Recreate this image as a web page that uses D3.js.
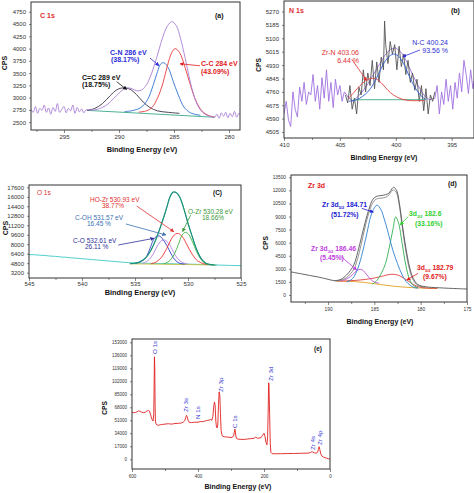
<!DOCTYPE html>
<html><head><meta charset="utf-8">
<script src="https://cdn.jsdelivr.net/npm/d3@7"></script>
<style>body{margin:0;background:#fff}svg{display:block}text{font-family:"Liberation Sans",Arial,sans-serif}</style>
</head><body><svg id="c" width="474" height="493"></svg>
<script>
// ---------- Panel (a) C 1s ----------
const aXTicks=[295,290,285,280], aXMinor=[297.5,292.5,287.5,282.5];
const aYTicks=[2500,2750,3000,3250,3500,3750,4000,4250,4500,4750];
const aEnvelope=[[298,2760],[297.8,2700],[297.6,2820],[297.4,2680],[297.2,2780],[297,2740],[296.8,2850],[296.6,2700],[296.4,2790],[296.2,2660],[296,2800],[295.8,2720],[295.6,2880],[295.4,2700],[295.2,2760],[295,2820],[294.8,2690],[294.6,2780],[294.4,2730],[294.2,2850],[294,2680],[293.8,2800],[293.6,2710],[293.4,2770],[293.2,2690],[293,2750],[292.5,2745],[292,2760],[291.5,2800],[291,2870],[290.5,2980],[290,3090],[289.6,3170],[289.2,3200],[288.8,3180],[288.4,3140],[288,3150],[287.6,3230],[287.2,3400],[286.8,3650],[286.4,3950],[286,4250],[285.6,4460],[285.2,4550],[284.8,4470],[284.4,4200],[284,3820],[283.6,3400],[283.2,3050],[282.8,2820],[282.4,2700],[282,2640],[281.6,2610],[281.3,2600],[281.1,2660],[280.9,2580],[280.7,2690],[280.5,2620],[280.3,2700],[280.1,2590],[279.9,2680],[279.7,2610],[279.5,2720],[279.3,2600],[279.1,2680],[278.9,2630]];
const aCdC=[[292.9,2740],[292.2,2780],[291.5,2880],[290.8,3040],[290.2,3160],[289.6,3200],[289,3170],[288.4,3060],[287.8,2910],[287.2,2800],[286.5,2730],[285.5,2700],[284.5,2680]];
const aCN=[[289.5,2715],[288.8,2735],[288,2800],[287.4,2960],[286.9,3250],[286.5,3530],[286.2,3690],[285.9,3710],[285.5,3600],[285.1,3350],[284.6,3050],[284.1,2810],[283.5,2690],[282.6,2640]];
const aCC=[[288.2,2705],[287.5,2730],[287,2800],[286.5,2990],[286,3300],[285.6,3650],[285.2,3920],[284.9,4000],[284.5,3920],[284,3620],[283.5,3250],[283,2930],[282.5,2740],[282,2650],[281.3,2600]];
const aBase=[[292.9,2740],[281.3,2600]];

// ---------- Panel (b) N 1s ----------
const bXTicks=[410,405,400,395], bXMinor=[407.5,402.5,397.5];
const bYTicks=[4505,4590,4675,4760,4845,4930,5015,5100,5185,5270];
const bPurple=[[410,4620],[409.8,4700],[409.6,4580],[409.4,4540],[409.2,4760],[409,4650],[408.8,4600],[408.6,4790],[408.4,4700],[408.2,4820],[408,4680],[407.8,4760],[407.6,4740],[407.4,4870],[407.2,4700],[407,4800],[406.8,4650],[406.6,4850],[406.4,4720],[406.2,4900],[406,4700],[405.8,4820],[405.6,4660],[405.4,4840],[405.2,4740],[405,4800],[404.8,4700],[404.6,4760],[404.2,4720],[403.8,4700],[403.4,4730],[403,4760],[402.5,4810],[402,4870],[401.5,4930],[401,4990],[400.5,5030],[400,5040],[399.5,5010],[399,4950],[398.5,4870],[398,4800],[397.5,4740],[397,4710],[396.5,4720],[396.3,4800],[396.1,4620],[395.9,4760],[395.7,4680],[395.5,4840],[395.3,4700],[395.1,4800],[394.9,4650],[394.7,4820],[394.5,4720],[394.3,4880],[394.1,4760],[393.9,4960],[393.7,4870],[393.5,4750],[393.3,4900],[393.1,4780],[393,4830]];
const bRaw=[[404.5,4740],[404.3,4690],[404.1,4800],[403.9,4650],[403.7,4720],[403.5,4620],[403.3,4790],[403.1,4740],[402.9,4900],[402.7,4760],[402.5,4880],[402.3,4800],[402.1,4960],[401.9,4780],[401.7,4950],[401.5,4820],[401.3,4980],[401.1,4900],[401,5210],[400.9,5060],[400.7,4940],[400.5,5080],[400.3,5000],[400.1,5060],[399.9,4900],[399.7,5050],[399.5,4920],[399.3,5000],[399.1,4870],[398.9,4960],[398.7,4820],[398.5,4880],[398.3,4770],[398.1,4840],[397.9,4700],[397.7,4800],[397.5,4640],[397.3,4780],[397.1,4620],[396.9,4740],[396.7,4700],[396.5,4760]];
const bNC=[[404.2,4700],[403.5,4710],[403,4730],[402.5,4760],[402,4810],[401.5,4880],[401,4950],[400.5,4990],[400.2,5000],[399.8,4990],[399.3,4940],[398.8,4860],[398.3,4790],[397.8,4740],[397.3,4710]];
const bZrN=[[404.2,4720],[403.7,4760],[403.2,4800],[402.7,4830],[402.2,4845],[401.7,4840],[401.2,4810],[400.7,4770],[400.2,4740],[399.5,4715],[398.8,4705],[397.4,4705]];
const bBase=[[403.8,4710],[397.4,4710]];

// ---------- Panel (c) O 1s ----------
const cXTicks=[545,540,535,530,525], cXMinor=[542.5,537.5,532.5,527.5];
const cYTicks=[3200,4800,6400,8000,9600,11200,12800,14400,16000,17600];
const cBack=[[545,6250],[544.5,6230],[544,6150],[543.5,6100],[543,6000],[542.5,5950],[542,5850],[541.5,5800],[541,5700],[540.5,5640],[540,5550],[539.5,5480],[539,5400],[538.5,5330],[538,5250],[537.5,5170],[537,5100],[536.5,5020],[536,4950],[535.5,4890],[535,4850],[534,4780],[533,4760],[532,4720],[531,4680],[530,4640],[529,4600],[528,4550],[527,4480],[526,4420],[525,4380]];
const cEnv=[[535.5,4700],[535,4800],[534.5,5100],[534,5700],[533.5,7000],[533,9000],[532.5,11500],[532,14200],[531.7,16000],[531.4,16800],[531.1,16700],[530.8,16000],[530.4,14000],[530,11500],[529.6,9300],[529.2,7200],[528.8,5700],[528.4,4900],[528,4600],[527.5,4500]];
const cEnv2=[[535.3,4700],[534.8,4850],[534.3,5250],[533.8,6100],[533.3,7600],[532.8,9800],[532.3,12400],[531.9,14900],[531.6,16300],[531.3,16850],[531,16600],[530.7,15700],[530.3,13500],[529.9,11000],[529.5,8700],[529.1,6700],[528.7,5400],[528.3,4800],[527.9,4550],[527.3,4450]];
const cCO=[[535,4750],[534.5,5000],[534,5700],[533.6,7200],[533.3,8600],[533,9300],[532.7,9400],[532.4,8900],[532,7800],[531.6,6400],[531.2,5300],[530.8,4800],[530.3,4650]];
const cCOH=[[534.3,4750],[533.8,5200],[533.3,6300],[532.9,7700],[532.5,8600],[532.2,8700],[531.8,8100],[531.4,6800],[531,5600],[530.5,4900],[530,4650]];
const cHOZr=[[533.5,4700],[533,5000],[532.5,5800],[532,7300],[531.6,8800],[531.2,9700],[530.9,9800],[530.5,9200],[530.1,7900],[529.6,6300],[529.1,5200],[528.5,4700],[528,4600]];
const cOZr=[[532.3,4700],[531.8,5100],[531.3,6300],[530.9,8000],[530.6,9400],[530.3,10000],[530,9800],[529.6,8500],[529.2,6800],[528.8,5500],[528.4,4800],[528,4550]];
const cBase=[[535.5,4700],[527.5,4500]];

// ---------- Panel (d) Zr 3d ----------
const dXTicks=[190,185,180,175], dXMinor=[192.5,187.5,182.5,177.5];
const dYTicks=[0,1500,3000,4500,6000,7500,9000,10500,12000,13500];
const dRaw=[[194,2650],[193,2450],[192,2250],[191,2050],[190,1800],[189.3,1650],[188.6,1800],[188,2300],[187.6,2800],[187.2,3500],[186.8,4900],[186.4,6600],[186,8300],[185.6,9800],[185.2,10900],[184.8,11300],[184.3,11400],[183.8,11500],[183.4,11700],[183.1,12200],[182.9,12350],[182.6,12000],[182.3,10500],[182,8200],[181.6,5400],[181.2,3200],[180.8,1900],[180.3,1200],[179.5,950],[178,830],[176,730],[175,690]];
const dFit=[[189.3,1600],[188.6,1700],[188,2000],[187.6,2400],[187.2,3000],[186.8,4200],[186.4,5900],[186,7800],[185.6,9400],[185.2,10500],[184.8,11000],[184.3,11100],[183.8,11200],[183.4,11500],[183.1,11950],[182.9,12050],[182.6,11700],[182.3,10200],[182,7900],[181.6,5000],[181.2,2900],[180.8,1700],[180.3,1100],[179.5,900]];
const dBlue=[[188,1500],[187.5,1750],[187.2,2100],[186.8,3000],[186.5,4000],[186.1,5700],[185.8,7100],[185.4,9000],[185,10000],[184.7,10300],[184.3,9800],[183.9,8600],[183.4,6700],[183,5100],[182.5,3600],[182,2300],[181.4,1350],[180.8,900],[180.3,780]];
const dGreen=[[185.2,1250],[184.7,1700],[184.2,2600],[183.8,3600],[183.4,5400],[183,7500],[182.7,8950],[182.4,8300],[182,5900],[181.6,3400],[181.2,1800],[180.8,1100],[180.3,850]];
const dMagenta=[[188.7,1650],[188.2,1750],[187.6,2100],[187.1,2600],[186.8,2850],[186.5,2950],[186.2,2800],[185.8,2300],[185.4,1800],[185,1500],[184.5,1350]];
const dRed=[[189,1600],[188,1620],[187,1680],[186,1780],[185,1950],[184,2200],[183.2,2380],[182.5,2300],[182,2050],[181.5,1700],[181,1350],[180.5,1050],[180,880],[179,780],[178.2,760]];
const dBase=[[189.1,1600],[188,1580],[187,1530],[186,1430],[185,1300],[184,1150],[183,1020],[182,920],[181,850],[180,800],[179,770],[178.2,760]];

// ---------- Panel (e) survey ----------
const eXTicks=[600,400,200,0], eXMinor=[500,300,100];
const eYTicks=[0,17000,34000,51000,68000,85000,102000,119000,136000,153000];
const eSurvey=[[600,61500],[595,61000],[590,61200],[585,62000],[580,63500],[575,62500],[570,61500],[565,61000],[560,61500],[555,63000],[550,64000],[547,63000],[544,59000],[541,54000],[538,51000],[536,50000],[534,60000],[533,95000],[532,134000],[531,120000],[530,70000],[529,50000],[527,46000],[524,45000],[520,44500],[510,45500],[500,46000],[490,46500],[480,46000],[470,46800],[460,47000],[450,47500],[445,48500],[440,50500],[437,55000],[435,57500],[433,56000],[430,51000],[427,48500],[420,48000],[410,48500],[400,48500],[395,49000],[390,49500],[385,49000],[380,50000],[375,50500],[370,51000],[365,51500],[362,52000],[358,51000],[355,56000],[352,70000],[350,75000],[348,70000],[346,50000],[344,42000],[342,41000],[340,45000],[338,70000],[336,88000],[334,85000],[332,60000],[330,38000],[327,31000],[324,30000],[320,29500],[310,29000],[300,28500],[295,29000],[292,31000],[290,35000],[288,39500],[286,33000],[284,27500],[280,26500],[270,26000],[260,26000],[250,26500],[240,27000],[230,27500],[225,29000],[220,27500],[210,28000],[205,31000],[200,34000],[197,30000],[194,22000],[191,19000],[189,30000],[187,70000],[186,100000],[185,98000],[183,60000],[181,20000],[179,9000],[176,7500],[170,7200],[150,7300],[130,7500],[110,7600],[90,7800],[70,8000],[60,8500],[55,10000],[52,9500],[48,8500],[42,8000],[38,9000],[35,13000],[33,16500],[31,13000],[28,7000],[24,4000],[20,3000],[15,2000],[10,1500],[5,800],[0,0]];
const ePeakNames=["O 1s","Zr 3s","N 1s","Zr 3p","C 1s","Zr 3d","Zr 4s","Zr 4p"];
const ePeakEV=[530,436,400,330,288,179,51.6,30.4];
const ePeakCPS=[137700,61800,52700,88000,40900,102400,12150,18700];

// ---------- drawing ----------
const svg=d3.select('#c');
const defs=svg.append('defs');
const FONT='"Liberation Sans",Arial,sans-serif';
let clipN=0;
function markerFor(color){
  const id='m'+color.replace('#','');
  if(defs.select('#'+id).empty()){
    defs.append('marker').attr('id',id).attr('viewBox','0 0 10 10').attr('refX',9).attr('refY',5)
      .attr('markerWidth',4).attr('markerHeight',4).attr('markerUnits','userSpaceOnUse').attr('orient','auto')
      .append('path').attr('d','M0,0L10,5L0,10z').attr('fill',color);
  }
  return 'url(#'+id+')';
}
function txt(x,y,s,color,size,weight,anchor){
  return svg.append('text').attr('x',x).attr('y',y).text(s).attr('fill',color||'#111')
    .attr('font-size',size).attr('font-weight',weight||'normal').attr('text-anchor',anchor||'start').attr('font-family',FONT);
}
function subTxt(x,y,pre,sub,post,color,size,weight){
  const t=svg.append('text').attr('x',x).attr('y',y).attr('fill',color).attr('font-size',size).attr('font-weight',weight).attr('font-family',FONT);
  t.append('tspan').text(pre);
  t.append('tspan').text(sub).attr('font-size',size*0.6).attr('dy',size*0.25);
  t.append('tspan').text(post).attr('dy',-size*0.25);
  return t;
}
function panel(o){
  const x=d3.scaleLinear().domain(o.xd).range([o.l,o.r]);
  const y=d3.scaleLinear().domain(o.yd).range([o.b,o.t]);
  const id='clip'+(clipN++);
  defs.append('clipPath').attr('id',id).append('rect').attr('x',o.l).attr('y',o.t).attr('width',o.r-o.l).attr('height',o.b-o.t);
  const g=svg.append('g');
  const plot=g.append('g').attr('clip-path','url(#'+id+')');
  const ax=g.append('g').attr('transform','translate(0,'+o.b+')')
    .call(d3.axisBottom(x).tickValues(o.xt).tickSize(3).tickPadding(o.xpad).tickFormat(d3.format('d')));
  const axm=g.append('g').attr('transform','translate(0,'+o.b+')')
    .call(d3.axisBottom(x).tickValues(o.xm).tickSize(2).tickFormat(''));
  const ay=g.append('g').attr('transform','translate('+o.l+',0)')
    .call(d3.axisLeft(y).tickValues(o.yt).tickSize(2).tickPadding(o.ypad).tickFormat(d3.format('d')));
  [ax,axm,ay].forEach(a=>{a.select('.domain').remove();
    a.selectAll('text').attr('font-size',o.fs).attr('fill','#333').attr('font-family',FONT);
    a.selectAll('line').attr('stroke','#555').attr('stroke-width',0.7);});
  g.append('rect').attr('x',o.l).attr('y',o.t).attr('width',o.r-o.l).attr('height',o.b-o.t)
    .attr('fill','none').attr('stroke','#333').attr('stroke-width',1);
  txt(o.xlab[0],o.xlab[1],'Binding Energy (eV)','#111',o.tfs,'bold','middle');
  txt(0,0,'CPS','#111',o.tfs*0.95,'bold','middle').attr('transform','translate('+o.ylab[0]+','+o.ylab[1]+') rotate(-90)');
  return {x,y,plot};
}
function line(p,data,color,w,curve){
  p.plot.append('path').datum(data)
    .attr('d',d3.line().x(d=>p.x(d[0])).y(d=>p.y(d[1])).curve(curve||d3.curveCatmullRom.alpha(0.5)))
    .attr('fill','none').attr('stroke',color).attr('stroke-width',w||0.9).attr('stroke-linejoin','round');
}
function arrow(p,a,color){
  svg.append('line').attr('x1',p.x(a[0])).attr('y1',p.y(a[1])).attr('x2',p.x(a[2])).attr('y2',p.y(a[3]))
    .attr('stroke',color).attr('stroke-width',0.8).attr('marker-end',markerFor(color));
}

// Panel a
const pa=panel({l:31,t:2,r:240,b:130,xd:[298,279],yd:[2340,4950],xt:aXTicks,xm:aXMinor,yt:aYTicks,fs:6,xpad:2,ypad:3,tfs:7.4,xlab:[142,152],ylab:[7,63]});
line(pa,aBase,'#3aa88a');
line(pa,aCdC,'#3b2f45');
line(pa,aCN,'#2f72d0');
line(pa,aCC,'#e8393a');
line(pa,aEnvelope,'#a97fd6');
txt(40,17.5,'C 1s','#e03030',7,'bold');
txt(215,17.5,'(a)','#111',7,'bold');
txt(110,54.5,'C-N 286 eV','#2a2ad8',7,'bold');
txt(111,62,'(38.17%)','#2a2ad8',7,'bold');
txt(201,65.5,'C-C 284 eV','#e02020',7,'bold');
txt(201,73.5,'(43.09%)','#e02020',7,'bold');
txt(82,79.5,'C=C 289 eV','#111',7,'bold');
txt(82,87,'(18.75%)','#111',7,'bold');
arrow(pa,[287.18,3808,286.36,3650],'#2a2ad8');
arrow(pa,[282.64,3650,284.46,3690],'#e02020');
arrow(pa,[290.21,3325,289.3,3165],'#111');

// Panel b
const pb=panel({l:284,t:1,r:474,b:138,xd:[410,393],yd:[4467,5337],xt:bXTicks,xm:bXMinor,yt:bYTicks,fs:6,xpad:2,ypad:3,tfs:7,xlab:[384,159.5],ylab:[261,65]});
line(pb,bPurple,'#a070e0',0.9,d3.curveLinear);
line(pb,bRaw,'#555',0.9,d3.curveLinear);
line(pb,bBase,'#3aa880');
line(pb,bZrN,'#e04040');
line(pb,bNC,'#2f5fd0');
txt(289,12.5,'N 1s','#e03030',7,'bold');
txt(451,13,'(b)','#111',7,'bold');
txt(359,55,'Zr-N 403.06','#e03030',7,'normal','end');
txt(359,62.5,'6.44 %','#e03030',7,'normal','end');
txt(448,45,'N-C 400.24','#3030d0',7,'normal','end');
txt(448,52.5,'93.56 %','#3030d0',7,'normal','end');
arrow(pb,[403.94,4967,402.6,4831],'#e03030');
arrow(pb,[397.83,5026,399.38,4983],'#3030d0');

// Panel c
const pc=panel({l:29,t:185,r:241,b:278,xd:[545,525],yd:[2300,18000],xt:cXTicks,xm:cXMinor,yt:cYTicks,fs:6,xpad:1,ypad:3,tfs:7.4,xlab:[140,294.5],ylab:[8,228]});
line(pc,cBack,'#3cc8c8',0.9,d3.curveLinear);
line(pc,cBase,'#c8c040');
line(pc,cCO,'#3040c0');
line(pc,cCOH,'#b080e0');
line(pc,cHOZr,'#f03030');
line(pc,cOZr,'#40b040');
line(pc,cEnv2,'#3cb371');
line(pc,cEnv,'#1a8f80',1.1);
txt(37,194.5,'O 1s','#e03030',6.5,'normal');
txt(213,194.5,'(C)','#111',6.5,'bold');
txt(90,202,'HO-Zr 530.93 eV','#e03030',6.5);
txt(102,207.5,'38.77%','#e03030',6.5);
txt(188,214,'O-Zr 530.28 eV','#3a9a3a',6.5);
txt(202,219.5,'18.66%','#3a9a3a',6.5);
txt(75,219.5,'C-OH 531.57 eV','#3a70b0',6.5);
txt(87,225.5,'16.45 %','#3a70b0',6.5);
txt(73,243,'C-O 532.61 eV','#303098',6.5);
txt(85,249,'26.11 %','#303098',6.5);
arrow(pc,[534.84,14454,531.33,10115],'#e03030');
arrow(pc,[529.75,12934,530.51,10115],'#3a9a3a');
arrow(pc,[535.85,11415,532.08,9558],'#3a70b0');
arrow(pc,[536.58,7870,533.21,9001],'#303098');

// Panel d
const pd=panel({l:291,t:175,r:467,b:302,xd:[194,175],yd:[-800,13760],xt:dXTicks,xm:dXMinor,yt:dYTicks,fs:4.8,xpad:3,ypad:3,tfs:7,xlab:[380,324],ylab:[268,243]});
line(pd,dBase,'#e0a020');
line(pd,dRed,'#e04040');
line(pd,dMagenta,'#c050d0');
line(pd,dGreen,'#30b050');
line(pd,dBlue,'#2f7fd0');
line(pd,dFit,'#888');
line(pd,dRaw,'#555');
txt(308,188,'Zr 3d','#e02020',7,'bold');
txt(448,185.5,'(d)','#111',7,'bold');
subTxt(322,207,'Zr 3d','5/2',' 184.71','#2020d0',6.8,'bold');
txt(331,217,'(51.72%)','#2020d0',6.8,'bold');
subTxt(409,216,'3d','3/2',' 182.6','#30d030',6.8,'bold');
txt(415,225.5,'(33.16%)','#30d030',6.8,'bold');
subTxt(311,251,'Zr 3d','3/2',' 186.46','#c040e0',6.8,'bold');
txt(320,260,'(5.45%)','#c040e0',6.8,'bold');
subTxt(417,270,'3d','5/2',' 182.79','#e02020',6.8,'bold');
txt(423,279,'(9.67%)','#e02020',6.8,'bold');
arrow(pd,[186.36,9938,185.1,9500],'#2020d0');
arrow(pd,[181.36,8975,182.23,8024],'#30d030');
arrow(pd,[188.71,4506,186.9,2870],'#c040e0');
arrow(pd,[180.28,2489,181.5,1721],'#e02020');

// Panel e
const pe=panel({l:132,t:339,r:330,b:469,xd:[600,0],yd:[-12700,157300],xt:eXTicks,xm:eXMinor,yt:eYTicks,fs:4.5,xpad:3,ypad:3,tfs:7,xlab:[238,489],ylab:[107,408]});
line(pe,eSurvey,'#e02020',0.9,d3.curveLinear);
txt(314,350.5,'(e)','#111',6.5,'bold');
ePeakNames.forEach((n,i)=>{
  svg.append('text').text(n).attr('fill','#3a3ad0').attr('font-size',6.2).attr('font-family',FONT)
    .attr('dy','0.35em')
    .attr('transform','translate('+pe.x(ePeakEV[i])+','+pe.y(ePeakCPS[i])+') rotate(-90)');
});
</script></body></html>
